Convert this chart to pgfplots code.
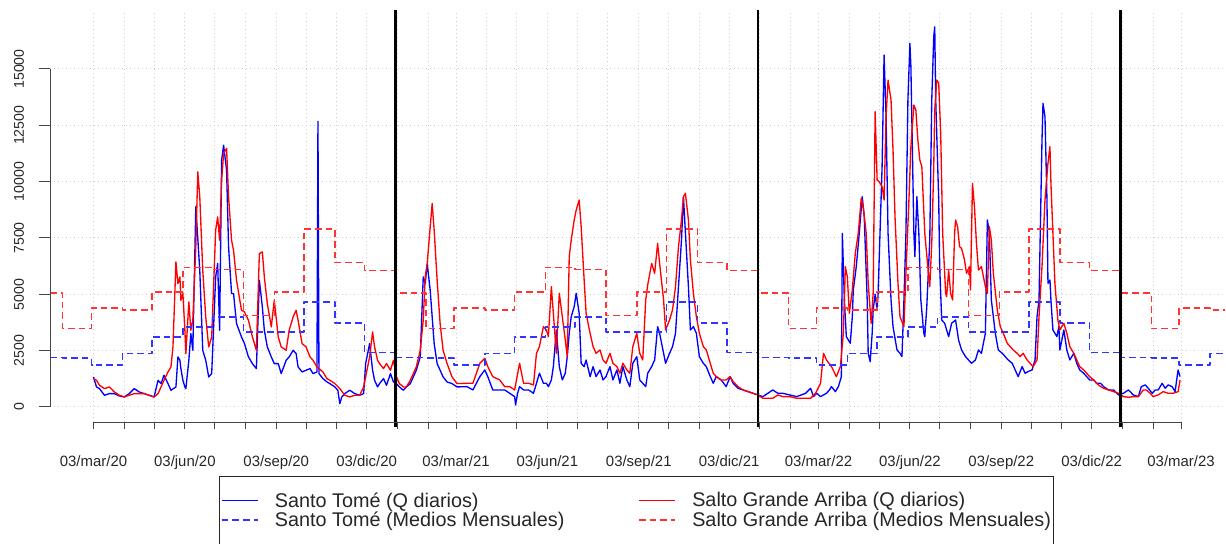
\documentclass[border=0pt]{standalone}
\usepackage{fontspec}
\setmainfont{Liberation Sans}
\usepackage{pgfplots}
\pgfplotsset{compat=1.18}
\definecolor{gridc}{RGB}{205,205,205}
\definecolor{axc}{RGB}{70,70,70}
\begin{document}
\begin{tikzpicture}
\useasboundingbox (-37.5pt,-91.35pt) rectangle (882pt,316.6pt);
\begin{axis}[
  scale only axis, width=880.9pt, height=307.95pt,
  at={(0,0)}, anchor=south west,
  xmin=18.2, xmax=1200.8, ymin=-675, ymax=17550,
  clip=false, scaled ticks=false,
  axis line style={draw=none},
  major tick length=0pt, tick style={draw=none},
  xtick={62,93,123,154,184,215,246,276,307,337,368,399,427,458,488,519,549,580,611,641,672,702,733,764,792,823,853,884,914,945,976,1006,1037,1067,1098,1129,1157},
  xticklabels={03/mar/20,,,03/jun/20,,,03/sep/20,,,03/dic/20,,,03/mar/21,,,03/jun/21,,,03/sep/21,,,03/dic/21,,,03/mar/22,,,03/jun/22,,,03/sep/22,,,03/dic/22,,,03/mar/23},
  ytick={0,2500,5000,7500,10000,12500,15000},
  yticklabels={0,2500,5000,7500,10000,12500,15000},
  grid=major,
  major grid style={gridc, line width=0.75pt, dash pattern=on 0.75pt off 2.25pt},
  xticklabel style={font=\fontsize{11.2}{13}\selectfont, text=black!85, anchor=base, inner sep=0pt, yshift=-32.9pt},
  yticklabel style={font=\fontsize{10.6}{12}\selectfont, text=black!85, xshift=-19.5pt, rotate=90, anchor=base, inner sep=0pt},
  legend columns=2,
  legend style={at={(axis description cs:0.1439,-0.131)}, anchor=north west,
    draw=black!85, line width=0.75pt, fill=white,
    inner xsep=1pt, inner ysep=11pt,
    font=\fontsize{14.85}{17.5}\selectfont, text=black!85,
    nodes={inner sep=1pt, text depth=0.15em},
    row sep=0pt,
    /tikz/every even column/.append style={column sep=54.3pt},
    /tikz/every odd column/.append style={column sep=11.5pt}},
  legend cell align=left,
  legend image code/.code={\draw[#1] (0pt,0pt) -- (27pt,0pt);},
  every axis plot/.append style={line join=round},
]
% Santo Tome daily
\addplot[blue, line width=1pt, no markers] coordinates {
(62,1332) (65,888) (68,814) (73,518) (78,592) (83,592) (88,488) (93,444) (98,592) (103,814)
(108,666) (113,592) (118,518) (123,444) (127,1184) (130,1036) (133,1406) (137,1036) (140,740) (145,888)
(147,2220) (149,2072) (150,1702) (152,1184) (154,888) (155,814) (158,2072) (160,3256) (162,2516) (165,8880)
(169,6068) (172,2516) (175,2072) (178,1332) (181,1480) (185,5772) (187,6364) (189,3404) (191,10952) (193,11618)
(196,10508) (198,7104) (201,5032) (203,5032) (206,3700) (211,3108) (214,2812) (218,2220) (222,1924) (226,1702)
(229,5624) (232,4440) (234,3404) (237,2664) (241,2220) (244,1924) (248,1924) (251,1480) (256,2072) (259,2220)
(263,2516) (266,2368) (268,1776) (272,1554) (276,1628) (280,1702) (283,1480) (287,1554) (288,12680) (289,1480)
(293,1258) (297,1110) (300,1036) (305,888) (308,740) (310,148) (312,444) (315,592) (320,740) (325,592)
(330,518) (334,592) (336,1924) (340,2812) (343,1628) (345,1184) (348,888) (350,1036) (354,1258) (357,962)
(361,1480) (364,1110) (367,1036) (370,888) (374,740) (377,888) (381,1036) (384,1332) (387,1628) (391,2220)
(394,5772) (396,5476) (398,6364) (401,5180) (403,3996) (405,2812) (408,1924) (411,1628) (414,1332) (418,1110)
(423,1036) (428,888) (438,902) (444,754) (451,1346) (456,1642) (459,1346) (464,754) (471,754) (476,754)
(481,606) (486,458) (487,89) (489,606) (491,902) (495,754) (500,754) (505,606) (508,1050) (511,1494)
(515,1050) (518,1050) (520,902) (523,1198) (525,1790) (528,3416) (531,1790) (534,1198) (537,1494) (539,2233)
(541,3269) (543,4008) (546,4452) (548,5043) (551,4156) (553,1937) (556,1790) (558,2085) (562,1346) (565,1790)
(568,1346) (572,1642) (575,1198) (578,1346) (582,1790) (585,1198) (589,1642) (592,1050) (595,1790) (599,1198)
(602,902) (605,1937) (609,2233) (612,1198) (615,1050) (618,902) (620,1494) (624,1790) (627,2085) (630,3564)
(632,3269) (636,2381) (638,1937) (642,2381) (645,2677) (648,3269) (651,5339) (654,7410) (656,9332) (658,7706)
(661,5339) (663,3416) (666,3564) (669,3269) (672,2233) (676,1937) (679,1790) (683,1346) (686,1050) (689,1346)
(694,1198) (699,902) (703,1346) (706,1050) (711,828) (716,754) (721,680) (726,606) (731,532) (736,458)
(741,606) (746,754) (751,606) (756,606) (763,532) (770,458) (779,606) (784,828) (787,458) (790,606)
(794,458) (797,532) (800,606) (803,754) (805,902) (809,680) (812,902) (815,1346) (816,7706) (818,4748)
(820,3121) (822,2973) (824,2825) (826,4008) (827,5191) (830,6227) (833,7706) (836,9332) (838,8445) (841,4748)
(842,2381) (844,2011) (846,3269) (847,4304) (849,5000) (851,4304) (852,5043) (856,10664) (858,15618) (860,12882)
(862,7706) (865,4748) (867,3564) (871,2529) (874,2381) (876,2233) (878,4748) (880,7706) (882,13622) (884,16136)
(885,15101) (888,7706) (889,6670) (891,9332) (893,7706) (895,4748) (898,3269) (899,3121) (901,4452) (904,7410)
(906,13622) (908,16432) (909,16875) (910,13622) (913,9185) (914,6227) (916,3860) (919,3712) (923,3121) (926,3712)
(930,3860) (933,2973) (936,2529) (940,2233) (943,2085) (946,1937) (950,2085) (953,2529) (956,2381) (960,3269)
(962,8297) (964,7706) (966,4748) (970,3269) (973,2529) (977,2381) (980,2233) (983,2085) (987,1937) (990,1642)
(993,1346) (997,1790) (1000,1494) (1003,1568) (1007,1642) (1010,2085) (1012,4008) (1014,4748) (1017,11847) (1018,13474)
(1020,12882) (1022,9185) (1023,5487) (1025,5635) (1026,4748) (1028,3416) (1032,3121) (1034,3564) (1035,2529) (1039,3416)
(1042,2529) (1045,2085) (1049,2381) (1052,1937) (1055,1642) (1059,1494) (1062,1346) (1065,1198) (1069,1198) (1072,1050)
(1076,1050) (1079,902) (1084,754) (1089,754) (1094,532) (1099,606) (1104,754) (1109,532) (1114,458) (1117,902)
(1121,976) (1124,828) (1128,606) (1131,754) (1134,754) (1138,1050) (1141,828) (1144,976) (1148,902) (1151,680)
(1154,1642) (1156,1346)
};
\addlegendentry{Santo Tomé (Q diarios)}
% Salto Grande Arriba daily
\addplot[red, line width=1pt, no markers] coordinates {
(62,1258) (65,1184) (68,962) (73,814) (78,888) (83,666) (88,518) (93,444) (98,518) (103,592)
(108,592) (113,592) (118,518) (123,444) (127,592) (130,888) (133,1184) (137,1554) (140,1776) (142,2664)
(145,6438) (147,5476) (149,5772) (150,4736) (152,5032) (154,3404) (155,2368) (158,4662) (160,3404) (162,3848)
(165,7104) (167,10434) (169,9324) (172,6068) (175,3996) (178,2664) (181,3108) (185,7844) (187,8436) (189,7400)
(191,10064) (193,11248) (196,11470) (198,9324) (201,7400) (203,6956) (206,5624) (211,4292) (214,4218) (218,3848)
(222,3108) (226,2516) (229,6808) (232,6882) (234,5772) (237,4588) (241,3552) (244,4736) (248,3108) (251,2664)
(256,2516) (259,3404) (263,3996) (266,4292) (268,3848) (272,2812) (276,2664) (280,2220) (283,2072) (287,1776)
(289,1702) (293,1554) (297,1258) (300,1184) (305,1036) (310,814) (315,518) (320,444) (325,518) (330,518)
(334,888) (336,1332) (340,2220) (343,3330) (345,2664) (348,2072) (350,1924) (354,1702) (357,1924) (361,1628)
(364,2072) (367,1332) (370,1036) (374,888) (377,888) (381,1184) (384,1480) (387,1776) (391,2516) (394,3848)
(396,5772) (398,6364) (401,7992) (403,9028) (405,7844) (408,5624) (411,3700) (414,2516) (418,1924) (423,1332)
(428,1036) (438,1050) (444,1050) (451,1937) (456,2159) (459,1790) (464,1346) (471,1198) (476,902) (481,902)
(486,754) (491,1937) (495,1050) (500,1050) (505,976) (508,2381) (511,2677) (515,3564) (518,3416) (520,3121)
(523,5339) (525,4156) (528,2381) (531,5043) (534,4008) (537,2973) (539,2233) (541,6670) (543,7410) (546,8297)
(548,8741) (551,9185) (553,8001) (556,5635) (558,4156) (562,3269) (565,2677) (568,2381) (572,2529) (575,2085)
(578,1937) (582,2381) (585,1937) (589,1790) (592,1494) (595,1937) (599,1642) (602,1494) (605,2677) (609,3269)
(612,2381) (615,2085) (618,4748) (620,5413) (624,6374) (627,5931) (630,7262) (632,6374) (636,4748) (638,3416)
(642,3860) (645,4304) (648,5339) (651,7114) (654,8297) (656,9332) (658,9480) (661,8297) (663,6522) (666,5043)
(669,4008) (672,3269) (676,2677) (679,2529) (683,1937) (686,1494) (689,1346) (694,1198) (699,1198) (703,1346)
(706,1124) (711,902) (716,754) (721,680) (726,606) (731,532) (736,385) (741,385) (746,385) (751,532)
(756,458) (763,458) (770,385) (779,385) (784,385) (789,606) (794,1050) (797,2381) (800,2085) (805,1790)
(810,1346) (814,1790) (817,3269) (819,6227) (821,5783) (823,4156) (826,5191) (829,6818) (832,7706) (835,9259)
(837,8889) (840,7706) (842,5487) (845,3712) (847,5043) (849,13104) (851,10072) (853,9998) (856,9776) (858,9185)
(860,12882) (862,14509) (865,13622) (867,11403) (869,8445) (872,5487) (874,4008) (878,3564) (880,5931) (883,9185)
(885,11551) (888,13400) (890,13178) (892,11847) (894,10959) (896,10664) (899,7706) (902,6227) (904,5339) (906,7262)
(908,10664) (909,13178) (911,14509) (913,14361) (915,12143) (917,7706) (920,5043) (921,4895) (923,6079) (925,5043)
(927,4748) (929,7706) (930,8297) (932,8001) (934,7114) (936,7040) (939,6522) (941,5931) (944,6227) (945,5191)
(947,9924) (949,8889) (951,7262) (953,6079) (956,6227) (960,5339) (962,5043) (964,8001) (966,7410) (968,5931)
(972,4304) (975,3564) (978,3269) (982,2825) (985,2677) (988,2529) (992,2381) (995,2233) (998,2381) (1002,2085)
(1005,1937) (1008,1790) (1012,2085) (1014,4008) (1017,6227) (1020,9185) (1023,10812) (1025,11551) (1026,9924) (1028,7706)
(1030,5487) (1033,3860) (1035,3416) (1039,3712) (1042,3269) (1045,2677) (1049,2381) (1052,2085) (1055,1790) (1059,1642)
(1062,1494) (1065,1346) (1069,1198) (1072,1050) (1076,902) (1079,828) (1084,754) (1089,680) (1094,606) (1099,458)
(1104,429) (1109,458) (1114,458) (1119,754) (1122,754) (1126,606) (1129,458) (1134,532) (1139,680) (1144,606)
(1149,606) (1154,680) (1156,1198)
};
\addlegendentry{Salto Grande Arriba (Q diarios)}
% Santo Tome monthly means (step line)
\addplot[blue!80!white, line width=1.1pt, dash pattern=on 5pt off 3pt, no markers] coordinates {
(18.2,2200) (31,2200) (31,2180) (60,2180) (60,1860) (91,1860) (91,2380) (121,2380) (121,3110) (152,3110)
(152,3550) (182,3550) (182,3990) (213,3990) (213,3330) (274,3330) (274,4660) (305,4660) (305,3730) (335,3730)
(335,2420) (366,2420) (366,2200) (397,2200) (397,2180) (425,2180) (425,1860) (456,1860) (456,2380) (486,2380)
(486,3110) (517,3110) (517,3550) (547,3550) (547,3990) (578,3990) (578,3330) (639,3330) (639,4660) (670,4660)
(670,3730) (700,3730) (700,2420) (731,2420) (731,2200) (762,2200) (762,2180) (790,2180) (790,1860) (821,1860)
(821,2380) (851,2380) (851,3110) (882,3110) (882,3550) (912,3550) (912,3990) (943,3990) (943,3330) (1004,3330)
(1004,4660) (1035,4660) (1035,3730) (1065,3730) (1065,2420) (1096,2420) (1096,2200) (1127,2200) (1127,2180) (1155,2180)
(1155,1860) (1186,1860) (1186,2380) (1200.8,2380)
};
\addlegendentry{Santo Tomé (Medios Mensuales)}
% Salto Grande Arriba monthly means (step line)
\addplot[red!80!white, line width=1.1pt, dash pattern=on 5pt off 3pt, no markers] coordinates {
(18.2,5050) (31,5050) (31,3480) (60,3480) (60,4400) (91,4400) (91,4300) (121,4300) (121,5100) (152,5100)
(152,6200) (182,6200) (182,6100) (213,6100) (213,4050) (244,4050) (244,5100) (274,5100) (274,7900) (305,7900)
(305,6400) (335,6400) (335,6050) (366,6050) (366,5050) (397,5050) (397,3480) (425,3480) (425,4400) (456,4400)
(456,4300) (486,4300) (486,5100) (517,5100) (517,6200) (547,6200) (547,6100) (578,6100) (578,4050) (609,4050)
(609,5100) (639,5100) (639,7900) (670,7900) (670,6400) (700,6400) (700,6050) (731,6050) (731,5050) (762,5050)
(762,3480) (790,3480) (790,4400) (821,4400) (821,4300) (851,4300) (851,5100) (882,5100) (882,6200) (912,6200)
(912,6100) (943,6100) (943,4050) (974,4050) (974,5100) (1004,5100) (1004,7900) (1035,7900) (1035,6400) (1065,6400)
(1065,6050) (1096,6050) (1096,5050) (1127,5050) (1127,3480) (1155,3480) (1155,4400) (1186,4400) (1186,4300) (1200.8,4300)
};
\addlegendentry{Salto Grande Arriba (Medios Mensuales)}
% year separators
\addplot[black, line width=2pt, forget plot] coordinates {(366,-900) (366,17600)};
\addplot[black, line width=2pt, forget plot] coordinates {(731,-900) (731,17600)};
\addplot[black, line width=2pt, forget plot] coordinates {(1096,-900) (1096,17600)};
% axis lines and ticks (R style)
\draw[axc, line width=0.75pt] (axis cs:62,-675) -- (axis cs:1157,-675);
\pgfplotsinvokeforeach{62,93,123,154,184,215,246,276,307,337,368,399,427,458,488,519,549,580,611,641,672,702,733,764,792,823,853,884,914,945,976,1006,1037,1067,1098,1129,1157}{
  \draw[axc, line width=0.75pt] (axis cs:#1,-675) -- ++(0pt,-5.25pt);
}
\draw[axc, line width=0.75pt] (axis cs:18.2,0) -- (axis cs:18.2,15000);
\pgfplotsinvokeforeach{0,2500,5000,7500,10000,12500,15000}{
  \draw[axc, line width=0.75pt] (axis cs:18.2,#1) -- ++(-8pt,0pt);
}
\end{axis}
\end{tikzpicture}
\end{document}
